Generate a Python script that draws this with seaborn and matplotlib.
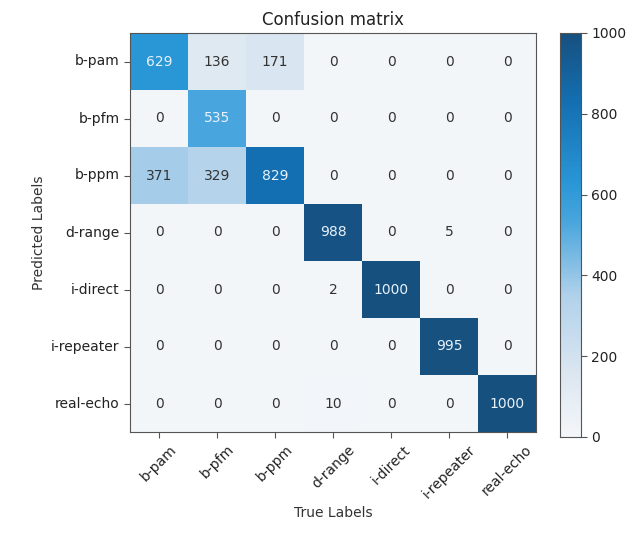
import matplotlib as mtl
mtl.use('Agg')
import numpy as np
import pandas as pd
import seaborn as sns
import matplotlib.pyplot as plt
from matplotlib.colors import LinearSegmentedColormap

classes = ['b-pam', 'b-pfm', 'b-ppm', 'd-range', 'i-direct', 'i-repeater', 'real-echo']
# rows = predicted labels, columns = true labels
row_bpam = [629, 136, 171, 0, 0, 0, 0]
row_bpfm = [0, 535, 0, 0, 0, 0, 0]
row_bppm = [371, 329, 829, 0, 0, 0, 0]
row_drange = [0, 0, 0, 988, 0, 5, 0]
row_idirect = [0, 0, 0, 2, 1000, 0, 0]
row_irepeater = [0, 0, 0, 0, 0, 995, 0]
row_realecho = [0, 0, 0, 10, 0, 0, 1000]

cm = pd.DataFrame([row_bpam, row_bpfm, row_bppm, row_drange,
                   row_idirect, row_irepeater, row_realecho],
                  index=classes, columns=classes)

# blues as they look in the picture (a bit brighter than stock Blues)
blues = LinearSegmentedColormap.from_list('ref_blues', [
    (0.0, '#f3f6f9'), (0.15, '#dde7f1'), (0.35, '#b0d1ea'),
    (0.53, '#4aa6dd'), (0.63, '#2996d6'), (0.83, '#146fb2'), (1.0, '#16507f')])

plt.rcParams['font.family'] = ['DejaVu Sans']
fig = plt.figure(figsize=(6.33, 5.36), dpi=100)
ax = fig.add_axes([130/633, 1-432/536, 406/633, 399/536])
cax = fig.add_axes([560/633, 1-437/536, 21/633, 404/536])

sns.heatmap(cm, ax=ax, cbar_ax=cax, cmap=blues, vmin=0, vmax=1000,
            annot=True, fmt='d', annot_kws={'fontsize': 10}, square=False)

# white text on dark cells, like the usual threshold rule
thresh = cm.values.max() / 2.
for t in ax.texts:
    v = int(t.get_text())
    t.set_color('#e8f2fa' if v > thresh else '#333333')

ax.set_title('Confusion matrix', fontsize=12, color='#222222')
ax.set_xlabel('True Labels', fontsize=10, color='#333333')
ax.set_ylabel('Predicted Labels', fontsize=10, color='#333333')
ax.set_xticklabels(classes, rotation=45, ha='center')
ax.set_yticklabels(classes, rotation=0)
ax.tick_params(length=4, color='#555555', labelcolor='#222222')
for sp in ax.spines.values():
    sp.set_visible(True)
    sp.set_color('#555555')

cax.set_yticks([0, 200, 400, 600, 800, 1000])
cax.tick_params(length=4, color='#555555', labelcolor='#222222')
cax.set_frame_on(True)
for sp in cax.spines.values():
    sp.set_visible(True)
    sp.set_color('#555555')

fig.savefig('out.png', dpi=100)
